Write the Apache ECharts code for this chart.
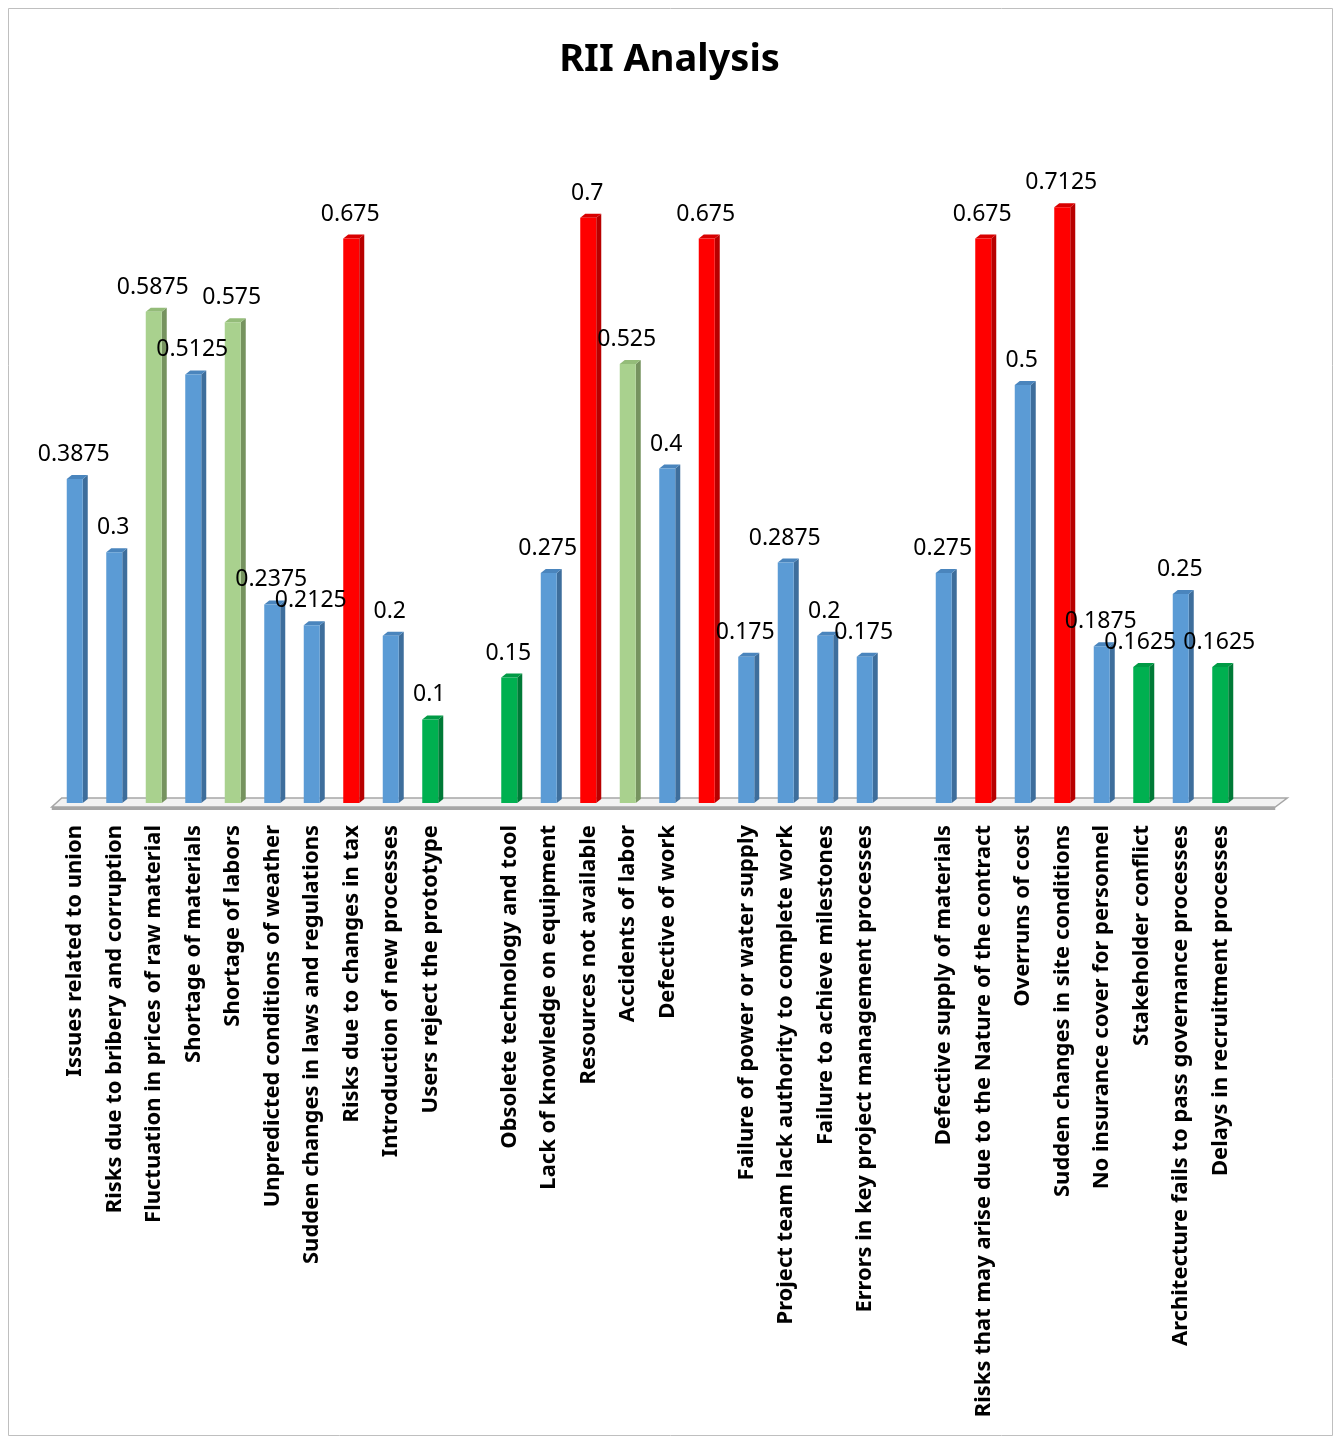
<!DOCTYPE html>
<html><head><meta charset="utf-8">
<script src="https://cdn.jsdelivr.net/npm/echarts@6/dist/echarts.min.js"></script>
<style>html,body{margin:0;padding:0;background:#fff}#c{width:1339px;height:1437px}</style>
</head><body><div id="c"></div>
<script>
const categories = [
 'Issues related to union','Risks due to bribery and corruption','Fluctuation in prices of raw material',
 'Shortage of materials','Shortage of labors','Unpredicted conditions of weather',
 'Sudden changes in laws and regulations','Risks due to changes in tax','Introduction of new processes',
 'Users reject the prototype','',
 'Obsolete technology and tool','Lack of knowledge on equipment','Resources not available',
 'Accidents of labor','Defective of work','',
 'Failure of power or water supply','Project team lack authority to complete work',
 'Failure to achieve milestones','Errors in key project management processes','',
 'Defective supply of materials','Risks that may arise due to the Nature of the contract',
 'Overruns of cost','Sudden changes in site conditions','No insurance cover for personnel',
 'Stakeholder conflict','Architecture fails to pass governance processes','Delays in recruitment processes'
];
const values = [
 0.3875,0.3,0.5875,0.5125,0.575,0.2375,0.2125,0.675,0.2,0.1,null,
 0.15,0.275,0.7,0.525,0.4,0.675,
 0.175,0.2875,0.2,0.175,null,
 0.275,0.675,0.5,0.7125,0.1875,0.1625,0.25,0.1625
];
// risk level class of each bar
const levels = [
 'normal','normal','medium','normal','medium','normal','normal','high','normal','low',null,
 'low','normal','high','medium','normal','high',
 'normal','normal','normal','normal',null,
 'normal','high','normal','high','normal','low','normal','low'
];
const palette = {
 normal:{front:'#5B9BD5', side:'#3E6E9C', top:'#4A85BD'},
 medium:{front:'#A9D18E', side:'#76935F', top:'#94BC79'},
 high:{front:'#FF0000', side:'#B80000', top:'#D80000'},
 low:{front:'#00B050', side:'#007A37', top:'#009A45'}
};
const chart = echarts.init(document.getElementById('c'));
const data = values.map((v,i)=> v==null ? [i,'-'] : [i,v]);
const FONT = '"Noto Sans", sans-serif';
chart.setOption({
 animation:false,
 title:{text:'RII Analysis', left:'center', top:36, textStyle:{fontFamily:FONT, fontSize:38, fontWeight:'bold', color:'#000'}},
 grid:{left:55, right:99, top:134, bottom:634, containLabel:false},
 xAxis:{type:'category', data:categories,
   axisLine:{show:false}, axisTick:{show:false},
   axisLabel:{interval:0, rotate:90, margin:22, fontFamily:FONT, fontWeight:'bold', fontSize:22, color:'#000'}},
 yAxis:{type:'value', min:0, max:0.8, show:false, splitLine:{show:false}},
 series:[{
   type:'custom',
   data:data,
   encode:{x:0,y:1},
   renderItem:function(params, api){
     const v = api.value(1);
     if (v === '-' || v == null || isNaN(v)) return;
     const i = api.value(0);
     const top = api.coord([i, v]);
     const base = api.coord([i, 0]);
     const c = palette[levels[params.dataIndex]];
     const hw = 8, dx = 5, dy = 4;
     const x = top[0], yt = top[1], yb = base[1];
     return {type:'group', children:[
       {type:'polygon', shape:{points:[[x+hw,yt],[x+hw+dx,yt-dy],[x+hw+dx,yb-dy],[x+hw,yb]]}, style:{fill:c.side}},
       {type:'polygon', shape:{points:[[x-hw,yt],[x-hw+dx,yt-dy],[x+hw+dx,yt-dy],[x+hw,yt]]}, style:{fill:c.top}},
       {type:'rect', shape:{x:x-hw, y:yt, width:2*hw, height:yb-yt}, style:{fill:c.front}},
       {type:'text', z2:100, x:x-1, y:yt-13, style:{text:String(v), fontFamily:FONT, fontSize:23, fill:'#000', align:'center', verticalAlign:'bottom'}}
     ]};
   }
 }]
});
// floor and frame
const p0 = chart.convertToPixel({xAxisIndex:0, yAxisIndex:0}, [0,0]);
const p1 = chart.convertToPixel({xAxisIndex:0, yAxisIndex:0}, [categories.length-1,0]);
const yb = p0[1];
const L = p0[0]-23, R = p1[0]+55;
chart.setOption({graphic:[
  {type:'rect', shape:{x:8.5,y:8.5,width:1324,height:1427}, style:{fill:'none', stroke:'#BFBFBF', lineWidth:1}, z:-10},
  {type:'polygon', shape:{points:[[L+10,yb-5],[R+12,yb-5],[R,yb+4],[L,yb+4]]}, style:{fill:'#F2F2F2', stroke:'#A6A6A6', lineWidth:1.5}, z:-5},
  {type:'rect', shape:{x:L, y:yb+4, width:R-L, height:3}, style:{fill:'#A6A6A6'}, z:-5}
]});
</script></body></html>
